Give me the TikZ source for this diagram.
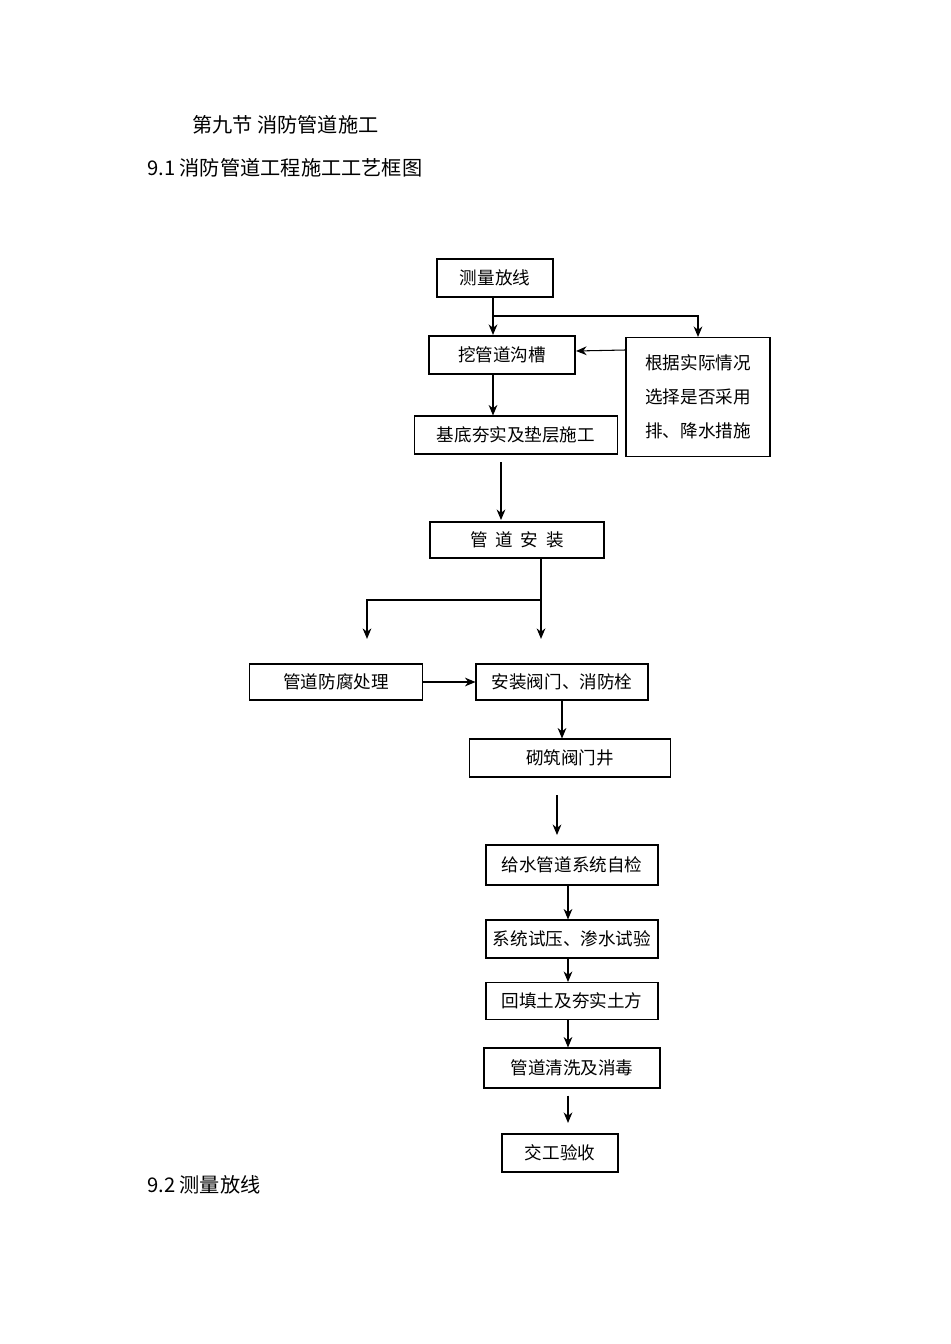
\documentclass[tikz,border=0pt]{standalone}
\usepackage{fontspec}
\setmainfont{Noto Sans CJK SC}
\usetikzlibrary{arrows.meta}
\tikzset{
  box/.style={draw, semithick, inner sep=0pt, font=\fontsize{10}{12}\selectfont},
  boxb/.style={box, very thick},
  arr/.style={-{Stealth[length=6pt,width=5pt]}, semithick},
  head/.style={anchor=west, font=\fontsize{11.5}{14}\selectfont}
}
\begin{document}
\begin{tikzpicture}[x=0.02cm, y=-0.02cm]
\useasboundingbox (0,0) rectangle (950,1344);
%% headings
\node[head] (t1) at (186,125) {第九节\ 消防管道施工};
\node[head] (t2) at (141,168) {9.1 消防管道工程施工工艺框图};
\node[head] (t3) at (141,1185) {9.2 测量放线};
%% boxes
\node[boxb, minimum width=116*0.02cm, minimum height=38*0.02cm] (clfx) at (495,278) {测量放线};
\node[boxb, minimum width=146*0.02cm, minimum height=38*0.02cm] (wgc) at (502,355) {挖管道沟槽};
\node[box, minimum width=144*0.02cm, minimum height=119*0.02cm, align=center, font=\fontsize{10}{19.5}\selectfont] (gj) at (698,397) {根据实际情况\\选择是否采用\\排、降水措施};
\node[box, minimum width=203*0.02cm, minimum height=38*0.02cm] (jd) at (516,435) {基底夯实及垫层施工};
\node[boxb, minimum width=174*0.02cm, minimum height=36*0.02cm] (az) at (517,540) {管\ \ 道\ \ 安\ \ 装};
\node[box, minimum width=173*0.02cm, minimum height=36*0.02cm] (ff) at (336,682) {管道防腐处理};
\node[box, minimum width=172*0.02cm, minimum height=36*0.02cm] (fm) at (562,682) {安装阀门、消防栓};
\node[box, minimum width=201*0.02cm, minimum height=38*0.02cm] (qz) at (570,758) {砌筑阀门井};
\node[box, minimum width=172*0.02cm, minimum height=40*0.02cm] (zj) at (572,865) {给水管道系统自检};
\node[box, minimum width=172*0.02cm, minimum height=38*0.02cm] (sy) at (572,939) {系统试压、渗水试验};
\node[box, minimum width=172*0.02cm, minimum height=37*0.02cm] (ht) at (572,1001) {回填土及夯实土方};
\node[box, minimum width=176*0.02cm, minimum height=40*0.02cm] (qx) at (572,1068) {管道清洗及消毒};
\node[box, minimum width=116*0.02cm, minimum height=38*0.02cm] (ys) at (560,1153) {交工验收};
%% free points
\coordinate (p1) at (493,316);
\coordinate (p2) at (501,462);
\coordinate (p3) at (501,520);
\coordinate (p4) at (541,600);
\coordinate (p5) at (557,795);
\coordinate (p6) at (557,835);
%% connectors
\draw[arr] (clfx.south -| p1) -- (wgc.north -| p1);
\draw[arr] (p1) -| (gj.north);
\draw[arr] (gj.west |- 0,350) -- (wgc.east |- 0,351);
\draw[arr] (wgc.south -| p1) -- (jd.north -| p1);
\draw[arr] (p2) -- (p3);
\draw[semithick] (az.south -| p4) -- (p4);
\draw[arr] (p4) -| ([yshift=14]ff.north -| 367,0);
\draw[arr] (p4) -- ([yshift=14]fm.north -| p4);
\draw[arr] (ff.east) -- (fm.west);
\draw[arr] (fm.south -| 562,0) -- (qz.north -| 562,0);
\draw[arr] (p5) -- (p6);
\draw[arr] (zj.south -| 568,0) -- (sy.north -| 568,0);
\draw[arr] (sy.south -| 568,0) -- (ht.north -| 568,0);
\draw[arr] (ht.south -| 568,0) -- (qx.north -| 568,0);
\draw[arr] ([yshift=-4]qx.south -| 568,0) -- ([yshift=6]ys.north -| 568,0);
\end{tikzpicture}
\end{document}
